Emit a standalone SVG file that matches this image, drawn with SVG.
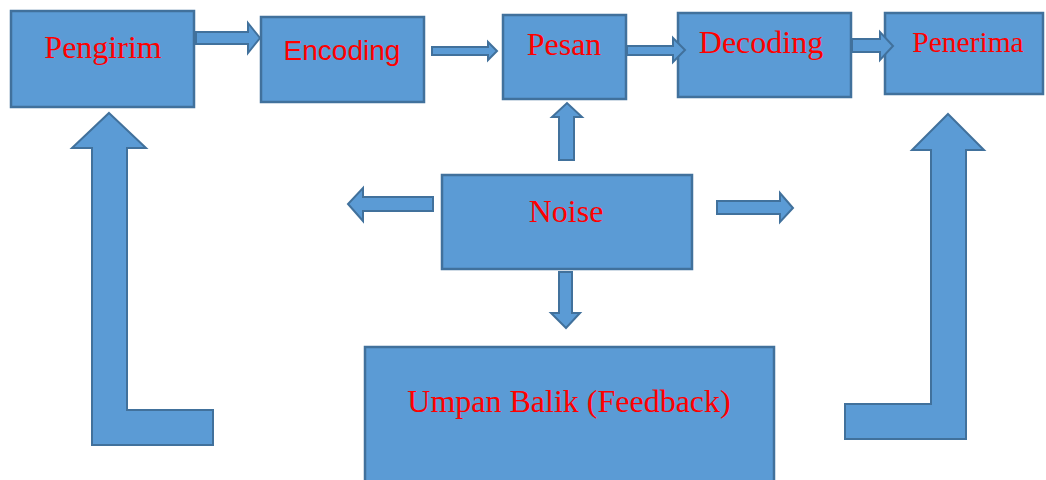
<svg xmlns="http://www.w3.org/2000/svg" width="1046" height="480" viewBox="0 0 1046 480">
<style>
.box{fill:#5B9BD5;stroke:#41719C;stroke-width:2.5}
.arr{fill:#5B9BD5;stroke:#41719C;stroke-width:2;stroke-linejoin:miter}
.t{font-family:"Liberation Serif","Times New Roman",serif;font-size:32px;fill:#FF0000;text-anchor:middle}
.s{font-family:"Liberation Sans",Arial,sans-serif;font-size:28px;fill:#FF0000;text-anchor:middle}
</style>
<rect width="1046" height="480" fill="#FFFFFF"/>
<g id="pengirim"><rect class="box" x="11" y="11" width="183" height="96"/><text class="t" x="103" y="58">Pengirim</text></g>
<g id="encoding"><rect class="box" x="261" y="17" width="163" height="85"/><text class="s" x="342" y="60">Encoding</text></g>
<g id="pesan"><rect class="box" x="503" y="15" width="123" height="84"/><text class="t" x="564" y="55">Pesan</text></g>
<g id="decoding"><rect class="box" x="678" y="13" width="173" height="84"/><text class="t" x="761" y="53">Decoding</text></g>
<g id="penerima"><rect class="box" x="885" y="13" width="158" height="81"/><text class="t" x="968" y="52" style="font-size:29.5px">Penerima</text></g>
<g id="noise"><rect class="box" x="442" y="175" width="250" height="94"/><text class="t" x="566" y="222">Noise</text></g>
<g id="feedback"><rect class="box" x="365" y="347" width="409" height="140"/><text class="t" x="569" y="412">Umpan Balik (Feedback)</text></g>
<g id="connectors">
<path class="arr" d="M196,32 L248,32 L248,23 L260,38 L248,53 L248,44 L196,44 Z"/>
<path class="arr" d="M432,47 L488,47 L488,42 L497,51 L488,60 L488,55 L432,55 Z"/>
<path class="arr" d="M627,46 L673,46 L673,38 L685,50 L673,62 L673,55 L627,55 Z"/>
<path class="arr" d="M852,39 L880,39 L880,32 L893,46 L880,60 L880,52 L852,52 Z"/>
<path class="arr" d="M559,160 L559,117 L552,117 L567,103 L582,117 L574,117 L574,160 Z"/>
<path class="arr" d="M433,197 L363,197 L363,188 L348,204 L363,221 L363,211 L433,211 Z"/>
<path class="arr" d="M717,201 L780,201 L780,193 L793,208 L780,222 L780,214 L717,214 Z"/>
<path class="arr" d="M559,272 L572,272 L572,313 L580,313 L566,328 L551,313 L559,313 Z"/>
<path class="arr" d="M109,113 L146,148 L127,148 L127,410 L213,410 L213,445 L92,445 L92,148 L72,148 Z"/>
<path class="arr" d="M948,114 L984,150 L966,150 L966,439 L845,439 L845,404 L931,404 L931,150 L912,150 Z"/>
</g>
</svg>
